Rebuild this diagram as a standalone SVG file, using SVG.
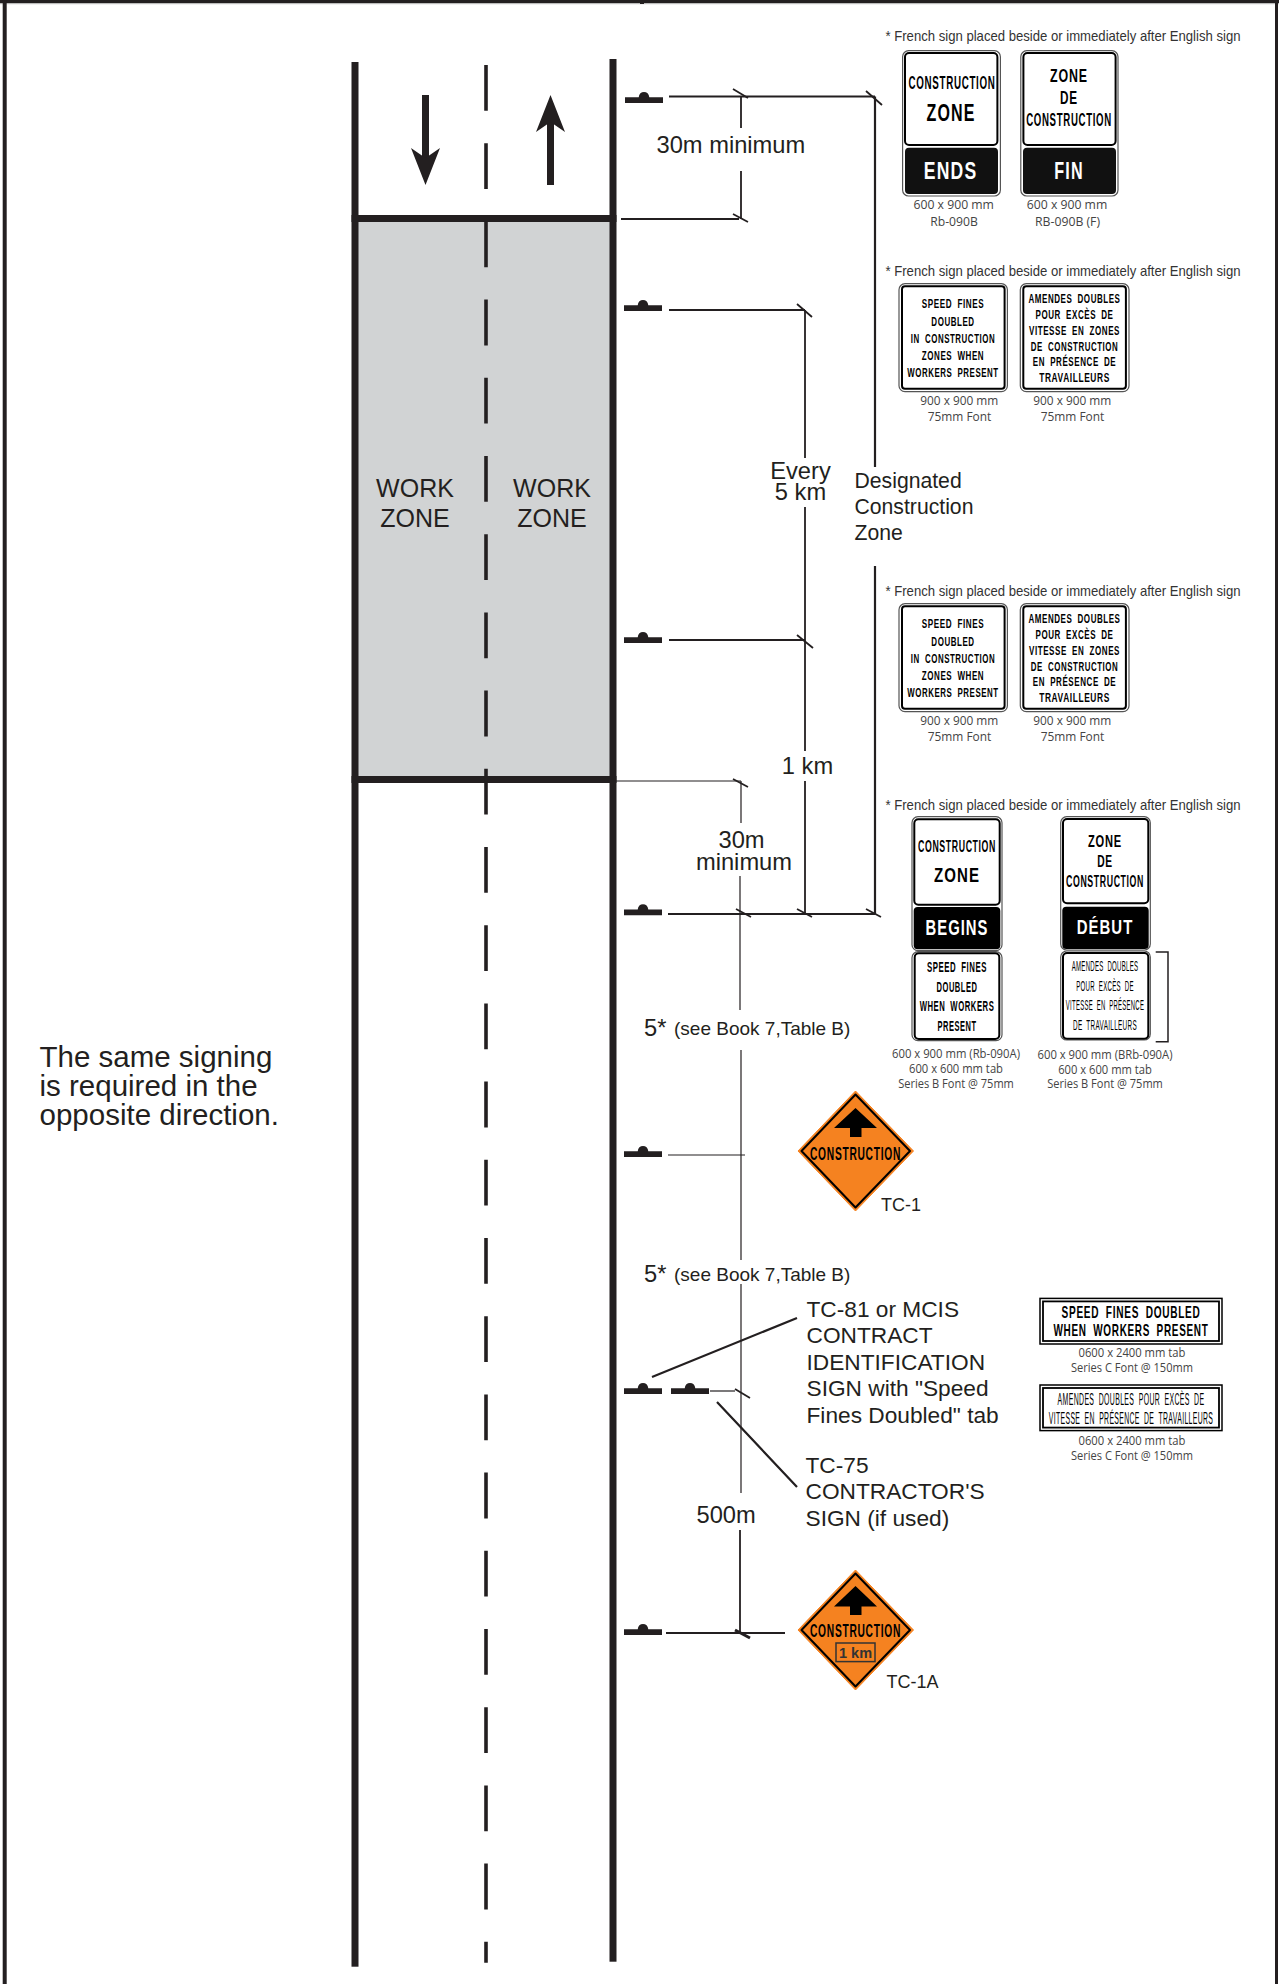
<svg xmlns="http://www.w3.org/2000/svg" xmlns:xlink="http://www.w3.org/1999/xlink" width="1279" height="1984" viewBox="0 0 1279 1984">
<style>
text{font-family:"Liberation Sans",Arial,sans-serif;fill:#231f20}
.lb{font-size:23.7px}
.lbm{text-anchor:middle}
.note{font-size:19px}
.h{font-size:14.5px;fill:#333}
.c{font-family:"Open Sans","Liberation Sans",sans-serif;font-size:12px;text-anchor:middle;fill:#444}
.s{font-weight:700;text-anchor:middle;fill:#000;letter-spacing:.07em;word-spacing:.3em}
.sl{font-weight:400;text-anchor:middle;fill:#000;letter-spacing:.05em;word-spacing:.3em}
.ln{stroke:#231f20;fill:none}
.t1{stroke-width:1.2}
.t2{stroke-width:1.8}
.t3{stroke-width:2.2}
.tick{stroke:#231f20;stroke-width:1.8;fill:none}
.outer{fill:#fff;stroke:#555;stroke-width:1.2}
.panel{fill:#fff;stroke:#000;stroke-width:2}
.blk{fill:#111}
.mark{fill:#231f20}
</style>
<defs>
<path id="post" d="M0 5.3H13.7C14 1.8 16.2 0 19 0S24 1.8 24.3 5.3H38V11H0Z"/>
</defs>
<rect width="1279" height="1984" fill="#fff"/>
<g id="frame">
<rect x="0" y="0" width="1279" height="3" fill="#231f20"/>
<rect x="0" y="3" width="1279" height="1.2" fill="#bbb"/>
<rect x="2.7" y="0" width="4" height="1984" fill="#231f20"/>
<rect x="1275" y="0" width="3" height="1984" fill="#231f20"/>
<rect x="640" y="0" width="4" height="4" fill="#231f20"/>
</g>
<g id="road">
<rect x="355" y="218.500" width="258" height="561" fill="#d1d3d4"/>
<rect x="351.500" y="62" width="7" height="1904.700" fill="#231f20"/>
<rect x="609.500" y="59" width="7" height="1902.700" fill="#231f20"/>
<rect x="351.500" y="215" width="265" height="7" fill="#231f20"/>
<rect x="351.500" y="776" width="265" height="7" fill="#231f20"/>
<line x1="486" y1="65" x2="486" y2="1962.700" stroke="#231f20" stroke-width="3.600" stroke-dasharray="45.800 32.400"/>
<path d="M425.500 95V160" stroke="#231f20" stroke-width="7"/>
<path d="M425.500 185L411 148L425.500 158L440 148Z" fill="#231f20"/>
<path d="M550.500 185V122" stroke="#231f20" stroke-width="7"/>
<path d="M550.500 95L536 132L550.500 122L565 132Z" fill="#231f20"/>
<text class="lbm" x="415" y="497" font-size="25">WORK</text>
<text class="lbm" x="415" y="527" font-size="25">ZONE</text>
<text class="lbm" x="552" y="497" font-size="25">WORK</text>
<text class="lbm" x="552" y="527" font-size="25">ZONE</text>
</g>
<g id="connectors">
<path class="ln t2" d="M669 96.500H875"/>
<path class="ln t3" d="M875 96.500V467M875 566V914"/>
<path class="ln t2" d="M741 97V128M741 171V219"/>
<path class="ln t2" d="M621 219H739"/>
<path class="ln t2" d="M669 310H805M669 640H805"/>
<path class="ln t2" d="M805 310V458M805 507V751M805 781V914"/>
<path class="ln t1" d="M616 781H741"/>
<path class="ln t1" d="M741 781V823M740 876V1010M741 1050V1260M741 1284V1493"/>
<path class="ln t2" d="M740 1530V1632"/>
<path class="ln t2" d="M668 914H875"/>
<path class="ln t1" d="M668 1155H745"/>
<path class="ln t1" d="M710 1391H735"/>
<path class="ln t2" d="M666 1633H785"/>
<path class="tick" d="M733 89L748 98M866 91L882 105M733 214L748 222M797 304L812 317M797 635L813 648M733 779L748 787M736 909L751 917M797 909L812 917M866 909L881 917M735 1389L750 1398"/>
<path class="tick" style="stroke-width:3" d="M735 1630L750 1638"/>
<path class="ln t3" d="M652 1377L797 1318M717 1402L797 1487"/>
</g>
<g id="sign-posts" class="mark">
<use xlink:href="#post" href="#post" x="625" y="92"/>
<use xlink:href="#post" href="#post" x="624" y="300"/>
<use xlink:href="#post" href="#post" x="624" y="632"/>
<use xlink:href="#post" href="#post" x="624" y="904.300"/>
<use xlink:href="#post" href="#post" x="624" y="1146"/>
<use xlink:href="#post" href="#post" x="624" y="1383"/>
<use xlink:href="#post" href="#post" x="671" y="1383"/>
<use xlink:href="#post" href="#post" x="624" y="1624"/>
</g>
<g id="labels">
<text class="lb" x="656.500" y="153">30m minimum</text>
<text class="lb lbm" x="800.500" y="479">Every</text>
<text class="lb lbm" x="800.500" y="500">5 km</text>
<text class="lb lbm" x="807.500" y="773.500">1 km</text>
<text class="lb lbm" x="741.500" y="847.500">30m</text>
<text class="lb lbm" x="744" y="870">minimum</text>
<text font-size="21.200" x="854.500" y="488">Designated</text>
<text font-size="21.200" x="854.500" y="514">Construction</text>
<text font-size="21.200" x="854.500" y="539.500">Zone</text>
<text class="lb" x="644" y="1035.500">5*</text><text class="note" x="674" y="1035">(see Book 7,Table B)</text>
<text class="lb" x="644" y="1281.500">5*</text><text class="note" x="674" y="1281">(see Book 7,Table B)</text>
<text class="lb" x="696.500" y="1523">500m</text>
<text font-size="22.700" x="806.500" y="1316.500">TC-81 or MCIS</text>
<text font-size="22.700" x="806.500" y="1343">CONTRACT</text>
<text font-size="22.700" x="806.500" y="1369.500">IDENTIFICATION</text>
<text font-size="22.700" x="806.500" y="1396">SIGN with "Speed</text>
<text font-size="22.700" x="806.500" y="1423">Fines Doubled" tab</text>
<text font-size="22.700" x="805.500" y="1472.500">TC-75</text>
<text font-size="22.700" x="805.500" y="1499">CONTRACTOR'S</text>
<text font-size="22.700" x="805.500" y="1526">SIGN (if used)</text>
<text font-size="18" x="881" y="1211">TC-1</text>
<text font-size="18" x="886.500" y="1688">TC-1A</text>
<text font-size="29.500" x="39.500" y="1067">The same signing</text>
<text font-size="29.500" x="39.500" y="1096">is required in the</text>
<text font-size="29.500" x="39.500" y="1124.500">opposite direction.</text>
<text class="h" x="885.500" y="41" textLength="355" lengthAdjust="spacingAndGlyphs">* French sign placed beside or immediately after English sign</text>
<text class="h" x="885.500" y="276" textLength="355" lengthAdjust="spacingAndGlyphs">* French sign placed beside or immediately after English sign</text>
<text class="h" x="885.500" y="596" textLength="355" lengthAdjust="spacingAndGlyphs">* French sign placed beside or immediately after English sign</text>
<text class="h" x="885.500" y="810" textLength="355" lengthAdjust="spacingAndGlyphs">* French sign placed beside or immediately after English sign</text>
</g>
<g id="sign-ends">
<rect class="outer" x="902.600" y="50.700" width="97.800" height="145.300" rx="6"/>
<rect class="panel" x="905" y="53" width="92.400" height="92" rx="4"/>
<rect class="blk" x="905" y="147.700" width="93" height="46.300" rx="4"/>
<text class="s" transform="translate(952 89) scale(.55 1)" font-size="18.600" textLength="158.200" lengthAdjust="spacingAndGlyphs">CONSTRUCTION</text>
<text class="s" x="951" y="120.700" font-size="23" textLength="49" lengthAdjust="spacingAndGlyphs">ZONE</text>
<text class="s" style="fill:#fff" x="950.600" y="179.300" font-size="23" textLength="53.700" lengthAdjust="spacingAndGlyphs">ENDS</text>
<text class="c" x="953.700" y="209" textLength="80.500" lengthAdjust="spacingAndGlyphs">600 x 900 mm</text>
<text class="c" x="954" y="226" textLength="47.600" lengthAdjust="spacingAndGlyphs">Rb-090B</text>
</g>
<g id="sign-fin">
<rect class="outer" x="1020.800" y="50.700" width="97.200" height="145.300" rx="6"/>
<rect class="panel" x="1023.400" y="53" width="92.200" height="92" rx="4"/>
<rect class="blk" x="1023" y="147.700" width="93" height="46.300" rx="4"/>
<text class="s" x="1069" y="82.300" font-size="18.600" textLength="38" lengthAdjust="spacingAndGlyphs">ZONE</text>
<text class="s" x="1069" y="104" font-size="18.600" textLength="18" lengthAdjust="spacingAndGlyphs">DE</text>
<text class="s" transform="translate(1069 126) scale(.55 1)" font-size="18.600" textLength="155.800" lengthAdjust="spacingAndGlyphs">CONSTRUCTION</text>
<text class="s" style="fill:#fff" x="1069" y="179.300" font-size="23" textLength="29.400" lengthAdjust="spacingAndGlyphs">FIN</text>
<text class="c" x="1067" y="209" textLength="80.500" lengthAdjust="spacingAndGlyphs">600 x 900 mm</text>
<text class="c" x="1067.500" y="226" textLength="65" lengthAdjust="spacingAndGlyphs">RB-090B (F)</text>
</g>
<g id="sign-speed-a">
<rect class="outer" x="899" y="283.700" width="108.400" height="108" rx="6"/>
<rect class="panel" x="902" y="286.300" width="102.600" height="102.500" rx="3"/>
<text class="s" transform="translate(953 308.300) scale(.55 1)" font-size="13.500" textLength="113.300" lengthAdjust="spacingAndGlyphs">SPEED FINES</text>
<text class="s" transform="translate(953 325.700) scale(.55 1)" font-size="13.500" textLength="78.700" lengthAdjust="spacingAndGlyphs">DOUBLED</text>
<text class="s" transform="translate(953 342.700) scale(.55 1)" font-size="13.500" textLength="153.500" lengthAdjust="spacingAndGlyphs">IN CONSTRUCTION</text>
<text class="s" transform="translate(953 360) scale(.55 1)" font-size="13.500" textLength="113.300" lengthAdjust="spacingAndGlyphs">ZONES WHEN</text>
<text class="s" transform="translate(953 376.700) scale(.55 1)" font-size="13.500" textLength="166" lengthAdjust="spacingAndGlyphs">WORKERS PRESENT</text>
<text class="c" x="959.300" y="405" textLength="78" lengthAdjust="spacingAndGlyphs">900 x 900 mm</text>
<text class="c" x="959.500" y="421" textLength="63.600" lengthAdjust="spacingAndGlyphs">75mm Font</text>
</g>
<g id="sign-amendes-a">
<rect class="outer" x="1020.300" y="283.700" width="108.700" height="108" rx="6"/>
<rect class="panel" x="1023.300" y="286.300" width="102.600" height="102.500" rx="3"/>
<text class="s" transform="translate(1074.500 303.300) scale(.55 1)" font-size="13.500" textLength="167.300" lengthAdjust="spacingAndGlyphs">AMENDES DOUBLES</text>
<text class="s" transform="translate(1074.500 319) scale(.55 1)" font-size="13.500" textLength="141.800" lengthAdjust="spacingAndGlyphs">POUR EXCÈS DE</text>
<text class="s" transform="translate(1074.500 334.700) scale(.55 1)" font-size="13.500" textLength="165.500" lengthAdjust="spacingAndGlyphs">VITESSE EN ZONES</text>
<text class="s" transform="translate(1074.500 350.700) scale(.55 1)" font-size="13.500" textLength="158.900" lengthAdjust="spacingAndGlyphs">DE CONSTRUCTION</text>
<text class="s" transform="translate(1074.500 366.300) scale(.55 1)" font-size="13.500" textLength="151.800" lengthAdjust="spacingAndGlyphs">EN PRÉSENCE DE</text>
<text class="s" transform="translate(1074.500 382) scale(.55 1)" font-size="13.500" textLength="128.400" lengthAdjust="spacingAndGlyphs">TRAVAILLEURS</text>
<text class="c" x="1072.300" y="405" textLength="78" lengthAdjust="spacingAndGlyphs">900 x 900 mm</text>
<text class="c" x="1072.500" y="421" textLength="63.600" lengthAdjust="spacingAndGlyphs">75mm Font</text>
</g>
<g id="sign-speed-b">
<rect class="outer" x="899" y="603.700" width="108.400" height="108" rx="6"/>
<rect class="panel" x="902" y="606.300" width="102.600" height="102.500" rx="3"/>
<text class="s" transform="translate(953 628.300) scale(.55 1)" font-size="13.500" textLength="113.300" lengthAdjust="spacingAndGlyphs">SPEED FINES</text>
<text class="s" transform="translate(953 645.700) scale(.55 1)" font-size="13.500" textLength="78.700" lengthAdjust="spacingAndGlyphs">DOUBLED</text>
<text class="s" transform="translate(953 662.700) scale(.55 1)" font-size="13.500" textLength="153.500" lengthAdjust="spacingAndGlyphs">IN CONSTRUCTION</text>
<text class="s" transform="translate(953 680) scale(.55 1)" font-size="13.500" textLength="113.300" lengthAdjust="spacingAndGlyphs">ZONES WHEN</text>
<text class="s" transform="translate(953 696.700) scale(.55 1)" font-size="13.500" textLength="166" lengthAdjust="spacingAndGlyphs">WORKERS PRESENT</text>
<text class="c" x="959.300" y="725" textLength="78" lengthAdjust="spacingAndGlyphs">900 x 900 mm</text>
<text class="c" x="959.500" y="741" textLength="63.600" lengthAdjust="spacingAndGlyphs">75mm Font</text>
</g>
<g id="sign-amendes-b">
<rect class="outer" x="1020.300" y="603.700" width="108.700" height="108" rx="6"/>
<rect class="panel" x="1023.300" y="606.300" width="102.600" height="102.500" rx="3"/>
<text class="s" transform="translate(1074.500 623.300) scale(.55 1)" font-size="13.500" textLength="167.300" lengthAdjust="spacingAndGlyphs">AMENDES DOUBLES</text>
<text class="s" transform="translate(1074.500 639) scale(.55 1)" font-size="13.500" textLength="141.800" lengthAdjust="spacingAndGlyphs">POUR EXCÈS DE</text>
<text class="s" transform="translate(1074.500 654.700) scale(.55 1)" font-size="13.500" textLength="165.500" lengthAdjust="spacingAndGlyphs">VITESSE EN ZONES</text>
<text class="s" transform="translate(1074.500 670.700) scale(.55 1)" font-size="13.500" textLength="158.900" lengthAdjust="spacingAndGlyphs">DE CONSTRUCTION</text>
<text class="s" transform="translate(1074.500 686.300) scale(.55 1)" font-size="13.500" textLength="151.800" lengthAdjust="spacingAndGlyphs">EN PRÉSENCE DE</text>
<text class="s" transform="translate(1074.500 702) scale(.55 1)" font-size="13.500" textLength="128.400" lengthAdjust="spacingAndGlyphs">TRAVAILLEURS</text>
<text class="c" x="1072.300" y="725" textLength="78" lengthAdjust="spacingAndGlyphs">900 x 900 mm</text>
<text class="c" x="1072.500" y="741" textLength="63.600" lengthAdjust="spacingAndGlyphs">75mm Font</text>
</g>
<g id="sign-begins">
<rect class="outer" x="912" y="816.700" width="90" height="134" rx="6"/>
<rect class="panel" x="914.300" y="819.300" width="85.400" height="85.400" rx="4"/>
<rect x="913.700" y="907" width="86.600" height="42.300" rx="4" fill="#000"/>
<rect class="outer" x="912" y="951.700" width="90" height="89" rx="6"/>
<rect class="panel" x="914.700" y="953.300" width="84.600" height="85.700" rx="4"/>
<text class="s" transform="translate(957 851.700) scale(.55 1)" font-size="16.800" textLength="141.800" lengthAdjust="spacingAndGlyphs">CONSTRUCTION</text>
<text class="s" x="957" y="881.700" font-size="21" textLength="46" lengthAdjust="spacingAndGlyphs">ZONE</text>
<text class="s" style="fill:#fff" x="957" y="935" font-size="22" textLength="63" lengthAdjust="spacingAndGlyphs">BEGINS</text>
<text class="s" transform="translate(957 972.300) scale(.55 1)" font-size="15.500" textLength="109" lengthAdjust="spacingAndGlyphs">SPEED FINES</text>
<text class="s" transform="translate(957 992) scale(.55 1)" font-size="15.500" textLength="74.500" lengthAdjust="spacingAndGlyphs">DOUBLED</text>
<text class="s" transform="translate(957 1011.300) scale(.55 1)" font-size="15.500" textLength="135.800" lengthAdjust="spacingAndGlyphs">WHEN WORKERS</text>
<text class="s" transform="translate(957 1030.700) scale(.55 1)" font-size="15.500" textLength="70.900" lengthAdjust="spacingAndGlyphs">PRESENT</text>
<text class="c" x="956" y="1057.700" textLength="128" lengthAdjust="spacingAndGlyphs">600 x 900 mm (Rb-090A)</text>
<text class="c" x="956" y="1072.700" textLength="94" lengthAdjust="spacingAndGlyphs">600 x 600 mm tab</text>
<text class="c" x="956" y="1088.300" textLength="115.700" lengthAdjust="spacingAndGlyphs">Series B Font @ 75mm</text>
</g>
<g id="sign-debut">
<rect class="outer" x="1060.700" y="816.700" width="89.600" height="133.300" rx="6"/>
<rect class="panel" x="1063" y="819" width="85.300" height="84.300" rx="4"/>
<rect x="1062.300" y="906.700" width="86.400" height="42.300" rx="4" fill="#000"/>
<rect class="outer" x="1060.700" y="951" width="89.600" height="89" rx="6"/>
<rect class="panel" x="1063" y="953" width="85.300" height="85.700" rx="4"/>
<text class="s" x="1105" y="846.700" font-size="16.800" textLength="34" lengthAdjust="spacingAndGlyphs">ZONE</text>
<text class="s" x="1105" y="866.700" font-size="16.800" textLength="15.700" lengthAdjust="spacingAndGlyphs">DE</text>
<text class="s" transform="translate(1105 886.700) scale(.55 1)" font-size="16.800" textLength="141.800" lengthAdjust="spacingAndGlyphs">CONSTRUCTION</text>
<text class="s" style="fill:#fff" x="1105" y="934.300" font-size="21" textLength="56.700" lengthAdjust="spacingAndGlyphs">DÉBUT</text>
<text class="sl" transform="translate(1105 971.300) scale(.55 1)" font-size="15" textLength="121.300" lengthAdjust="spacingAndGlyphs">AMENDES DOUBLES</text>
<text class="sl" transform="translate(1105 991) scale(.55 1)" font-size="15" textLength="104.900" lengthAdjust="spacingAndGlyphs">POUR EXCÈS DE</text>
<text class="sl" transform="translate(1105 1010) scale(.55 1)" font-size="15" textLength="142.400" lengthAdjust="spacingAndGlyphs">VITESSE EN PRÉSENCE</text>
<text class="sl" transform="translate(1105 1030) scale(.55 1)" font-size="15" textLength="116.400" lengthAdjust="spacingAndGlyphs">DE TRAVAILLEURS</text>
<path d="M1155.700 952H1168V1041.700H1155.700" fill="none" stroke="#231f20" stroke-width="1.500"/>
<text class="c" x="1105" y="1058.700" textLength="135" lengthAdjust="spacingAndGlyphs">600 x 900 mm (BRb-090A)</text>
<text class="c" x="1105" y="1073.700" textLength="93.700" lengthAdjust="spacingAndGlyphs">600 x 600 mm tab</text>
<text class="c" x="1105" y="1088.300" textLength="115.700" lengthAdjust="spacingAndGlyphs">Series B Font @ 75mm</text>
</g>
<g id="sign-tc1">
<path d="M855.500 1091L913.500 1151L855.500 1211L798 1151Z" fill="#f58220" stroke="#f58220" stroke-width="1" stroke-linejoin="round"/>
<path d="M855.500 1094.500L910 1151L855.500 1207.500L801.500 1151Z" fill="#f58220" stroke="#000" stroke-width="2" stroke-linejoin="round"/>
<path d="M855.500 1108L877 1128H861.500V1137H850V1128H834Z" fill="#000"/>
<text class="s" transform="translate(855.500 1159.600) scale(.55 1)" font-size="18.500" textLength="165.500" lengthAdjust="spacingAndGlyphs">CONSTRUCTION</text>
</g>
<g id="sign-tc1a">
<path d="M855.500 1570L913.500 1630L855.500 1690L798 1630Z" fill="#f58220" stroke="#f58220" stroke-width="1" stroke-linejoin="round"/>
<path d="M855.500 1573.500L910 1630L855.500 1686.500L801.500 1630Z" fill="#f58220" stroke="#000" stroke-width="2" stroke-linejoin="round"/>
<path d="M855.500 1586L877 1606.500H861.500V1615H850V1606.500H834Z" fill="#000"/>
<text class="s" transform="translate(855.500 1637) scale(.55 1)" font-size="18.500" textLength="165.500" lengthAdjust="spacingAndGlyphs">CONSTRUCTION</text>
<rect x="836" y="1643" width="39" height="18.600" fill="none" stroke="#333" stroke-width="1.500"/>
<text class="s" style="fill:#333;letter-spacing:0;word-spacing:0" x="855.500" y="1658" font-size="14.500">1 km</text>
</g>
<g id="tab-english">
<rect x="1040" y="1298.400" width="182" height="45.600" fill="#fff" stroke="#000" stroke-width="1.500"/>
<rect x="1043" y="1301.400" width="176" height="39.600" fill="none" stroke="#000" stroke-width="1.800"/>
<text class="s" transform="translate(1131 1318) scale(.55 1)" font-size="16.500" textLength="252.700" lengthAdjust="spacingAndGlyphs">SPEED FINES DOUBLED</text>
<text class="s" transform="translate(1131 1336) scale(.55 1)" font-size="16.500" textLength="281.800" lengthAdjust="spacingAndGlyphs">WHEN WORKERS PRESENT</text>
<text class="c" x="1132" y="1356.700" textLength="107" lengthAdjust="spacingAndGlyphs">0600 x 2400 mm tab</text>
<text class="c" x="1132" y="1372" textLength="122" lengthAdjust="spacingAndGlyphs">Series C Font @ 150mm</text>
</g>
<g id="tab-french">
<rect x="1040" y="1385" width="182" height="45.600" fill="#fff" stroke="#000" stroke-width="1.500"/>
<rect x="1043" y="1388" width="176" height="39.600" fill="none" stroke="#000" stroke-width="1.800"/>
<text class="sl" transform="translate(1131 1404.500) scale(.55 1)" font-size="16.500" textLength="267" lengthAdjust="spacingAndGlyphs">AMENDES DOUBLES POUR EXCÈS DE</text>
<text class="sl" transform="translate(1131 1423.700) scale(.55 1)" font-size="16.500" textLength="299" lengthAdjust="spacingAndGlyphs">VITESSE EN PRÉSENCE DE TRAVAILLEURS</text>
<text class="c" x="1132" y="1444.500" textLength="107" lengthAdjust="spacingAndGlyphs">0600 x 2400 mm tab</text>
<text class="c" x="1132" y="1459.600" textLength="122" lengthAdjust="spacingAndGlyphs">Series C Font @ 150mm</text>
</g>
</svg>
